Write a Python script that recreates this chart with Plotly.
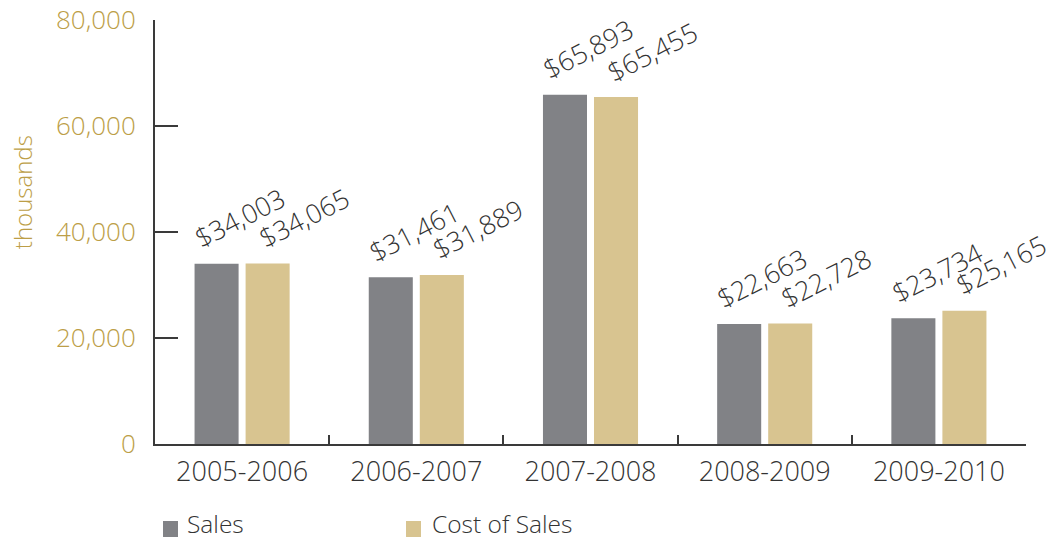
import plotly.graph_objects as go

# Annual figures, in thousands of dollars
years = ["2005-2006", "2006-2007", "2007-2008", "2008-2009", "2009-2010"]
sales = [34003, 31461, 65893, 22663, 23734]
cost_of_sales = [34065, 31889, 65455, 22728, 25165]
y_ticks = [0, 20000, 40000, 60000, 80000]

GRAY = "#818286"
TAN = "#D8C490"
GOLD = "#BC9E47"
INK = "#333333"
AXIS = "#3a3a3a"
FONT = "Open Sans"
LIGHT = 300

fig = go.Figure()
fig.add_trace(go.Bar(name="Sales", x=years, y=sales, marker_color=GRAY,
                     marker_line_width=0))
fig.add_trace(go.Bar(name="Cost of Sales", x=years, y=cost_of_sales,
                     marker_color=TAN, marker_line_width=0))

# Rotated dollar labels above each bar
annotations = []
for yr, s, c in zip(years, sales, cost_of_sales):
    for val, dx in ((s, -56), (c, 8)):
        annotations.append(dict(
            x=yr, y=val, xref="x", yref="y", text=f"${val:,}",
            showarrow=False, textangle=-27, xanchor="left", yanchor="bottom",
            xshift=dx, yshift=5,
            font=dict(family=FONT, size=26.5, color=INK, weight=LIGHT),
        ))

# Axis caption
annotations.append(dict(
    x=-0.1527, y=0.594, xref="paper", yref="paper", text="thousands",
    showarrow=False, textangle=-90, xanchor="center", yanchor="middle",
    font=dict(family=FONT, size=24, color=GOLD, weight=LIGHT),
))

# Legend row below the axis: colour swatch followed by the series name
shapes = []
for trace, x0, xt in ((fig.data[0], 0.0092, 0.0345),
                      (fig.data[1], 0.2882, 0.3157)):
    shapes.append(dict(type="rect", xref="paper", yref="paper",
                       x0=x0, x1=x0 + 0.0172, y0=-0.2193, y1=-0.1816,
                       fillcolor=trace.marker.color, line_width=0))
    annotations.append(dict(
        x=xt, y=-0.1875, xref="paper", yref="paper", text=trace.name,
        showarrow=False, xanchor="left", yanchor="middle",
        font=dict(family=FONT, size=24.5, color=INK, weight=LIGHT),
    ))

fig.update_layout(
    width=1053, height=540,
    margin=dict(l=155, r=27, t=20, b=96),
    paper_bgcolor="white", plot_bgcolor="white",
    barmode="group", bargap=0.414, bargroupgap=0.137,
    font=dict(family=FONT, color=INK),
    annotations=annotations, shapes=shapes,
    showlegend=False,
    xaxis=dict(
        type="category", range=[-0.5, 4.5], autorange=False,
        automargin=False, showgrid=False, zeroline=False,
        showline=True, linecolor=AXIS, linewidth=2,
        ticks="inside", tickson="boundaries", ticklen=9, tickwidth=1.5,
        tickcolor=AXIS,
        tickfont=dict(family=FONT, size=27, color=INK, weight=LIGHT),
        ticklabelstandoff=3,
    ),
    yaxis=dict(
        range=[0, 80000], autorange=False, automargin=False,
        tickvals=y_ticks, tickformat=",d",
        showgrid=False, zeroline=False,
        showline=True, linecolor=AXIS, linewidth=2,
        ticks="inside", ticklen=23, tickwidth=2, tickcolor=AXIS,
        tickfont=dict(family=FONT, size=26, color=GOLD, weight=LIGHT),
        ticklabelstandoff=12,
    ),
)

fig.write_html("out.html")
